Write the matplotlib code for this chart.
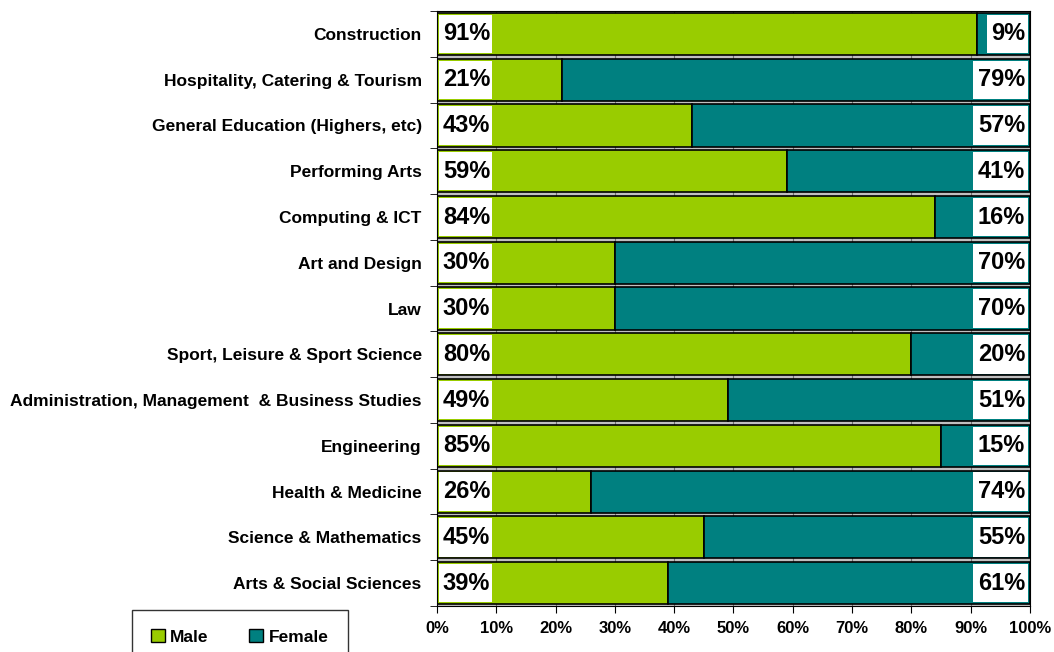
import numpy as np
import matplotlib
matplotlib.use('Agg')
import matplotlib.pyplot as plt
from matplotlib.patches import Patch

plt.rcParams['font.family'] = ['Liberation Sans', 'DejaVu Sans']
plt.rcParams['font.weight'] = 'bold'

# categories listed top to bottom
categories = ['Construction', 'Hospitality, Catering & Tourism',
              'General Education (Highers, etc)', 'Performing Arts',
              'Computing & ICT', 'Art and Design', 'Law',
              'Sport, Leisure & Sport Science',
              'Administration, Management  & Business Studies',
              'Engineering', 'Health & Medicine', 'Science & Mathematics',
              'Arts & Social Sciences']
male = [91, 21, 43, 59, 84, 30, 30, 80, 49, 85, 26, 45, 39]
female = [9, 79, 57, 41, 16, 70, 70, 20, 51, 15, 74, 55, 61]
ticks = [0, 10, 20, 30, 40, 50, 60, 70, 80, 90, 100]

green = '#99CC00'
teal = '#008080'

fig = plt.figure(figsize=(10.54, 6.52), dpi=100)
ax = fig.add_axes([0.4146, 0.0706, 0.5626, 0.9124])
ax.set_facecolor('#C0C0C0')

y = np.arange(len(categories))[::-1]
h = 0.92
ax.barh(y, male, height=h, color=green, edgecolor='black', linewidth=1.2, zorder=2)
ax.barh(y, female, left=male, height=h, color=teal, edgecolor='black', linewidth=1.2, zorder=2)

# white label boxes, width follows the number of characters
lw_box = [8.9] * len(male)
rw_box = [9.2 if f >= 10 else 6.9 for f in female]
ax.barh(y, lw_box, left=0.35, height=h - 0.08, color='white', zorder=3)
ax.barh(y, rw_box, left=[99.6 - w for w in rw_box], height=h - 0.08, color='white', zorder=3)
for yi, m, f in zip(y, male, female):
    ax.text(1.0, yi, f'{m}%', ha='left', va='center', fontsize=17, fontweight='bold', zorder=4)
    ax.text(99.2, yi, f'{f}%', ha='right', va='center', fontsize=17, fontweight='bold', zorder=4)

ax.set_xlim(0, 100)
ax.set_ylim(-0.5, len(categories) - 0.5)
ax.set_xticks(ticks)
ax.set_xticklabels([f'{t}%' for t in ticks], fontsize=12, fontweight='bold')
ax.set_yticks(y)
ax.set_yticklabels(categories, fontsize=12.5, fontweight='bold')
ax.set_yticks(np.arange(-0.5, len(categories), 1), minor=True)
ax.tick_params(axis='y', which='major', length=0, pad=11)
ax.tick_params(axis='y', which='minor', length=5, direction='out')
ax.tick_params(axis='x', length=5, direction='out', pad=6)
ax.xaxis.grid(True, color='#707070', lw=0.8, zorder=0)
ax.set_axisbelow(True)
for s in ax.spines.values():
    s.set_color('black')

handles = [Patch(facecolor=green, edgecolor='black', label='Male'),
           Patch(facecolor=teal, edgecolor='black', label='Female')]
fig.legend(handles=handles, loc='upper left', bbox_to_anchor=(0.1252, 0.0644),
           ncol=2, frameon=True, fancybox=False, edgecolor='black',
           prop={'weight': 'bold', 'size': 12.5}, handlelength=0.8, handleheight=0.8,
           handletextpad=0.3, columnspacing=2.35, borderpad=1.1, borderaxespad=0)

fig.savefig('out.png', dpi=100)
